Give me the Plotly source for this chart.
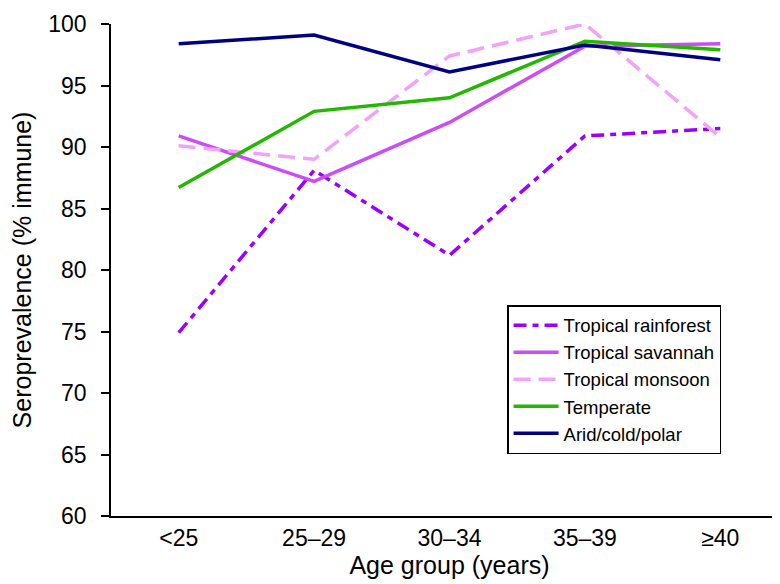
import plotly.graph_objects as go

age_groups = ["<25", "25–29", "30–34", "35–39", "≥40"]

tropical_rainforest = [74.9, 88.1, 81.2, 90.9, 91.5]
tropical_savannah = [90.9, 87.2, 92.0, 98.2, 98.4]
tropical_monsoon = [90.1, 89.0, 97.4, 100.0, 90.8]
temperate = [86.7, 92.9, 94.0, 98.6, 97.9]
arid_cold_polar = [98.4, 99.1, 96.1, 98.3, 97.1]

y_ticks = [60, 65, 70, 75, 80, 85, 90, 95, 100]

series = [
    ("Tropical rainforest", tropical_rainforest, "#9b00ff", "13px,6px,6px,6px"),
    ("Tropical savannah", tropical_savannah, "#cc4cf5", "solid"),
    ("Tropical monsoon", tropical_monsoon, "#f2a2f7", "17px,8px"),
    ("Temperate", temperate, "#22b800", "solid"),
    ("Arid/cold/polar", arid_cold_polar, "#000080", "solid"),
]

fig = go.Figure()
for name, vals, color, dash in series:
    fig.add_trace(go.Scatter(
        x=age_groups, y=vals, name=name, mode="lines",
        line=dict(color=color, width=3.5, dash=dash),
    ))

font = "Liberation Sans, Arial, sans-serif"

fig.update_layout(
    width=780, height=584,
    margin=dict(l=103, r=0, t=16, b=76),
    paper_bgcolor="white", plot_bgcolor="white",
    font=dict(family=font, size=23, color="black"),
    showlegend=True,
    legend=dict(
        x=0.585, y=0.4286, xanchor="left", yanchor="top",
        bordercolor="black", borderwidth=1.5,
        font=dict(size=18.5, color="black"),
        itemwidth=45, tracegroupgap=0,
        bgcolor="white",
    ),
)

fig.update_xaxes(
    type="category", range=[-0.5, 4.5],
    showline=True, linecolor="black", linewidth=1.5,
    showgrid=False, zeroline=False, ticks="",
    ticklabelstandoff=1,
    title=dict(text="Age group (years)", standoff=1, font=dict(size=25)),
)
fig.update_yaxes(
    range=[60, 100], tickvals=y_ticks,
    showline=True, linecolor="black", linewidth=1.5,
    showgrid=False, zeroline=False,
    ticks="outside", ticklen=8, tickwidth=1.5, tickcolor="black",
    ticklabelstandoff=10,
    title=dict(text="Seroprevalence (% immune)", standoff=16, font=dict(size=25)),
)

fig.write_html("out.html")
